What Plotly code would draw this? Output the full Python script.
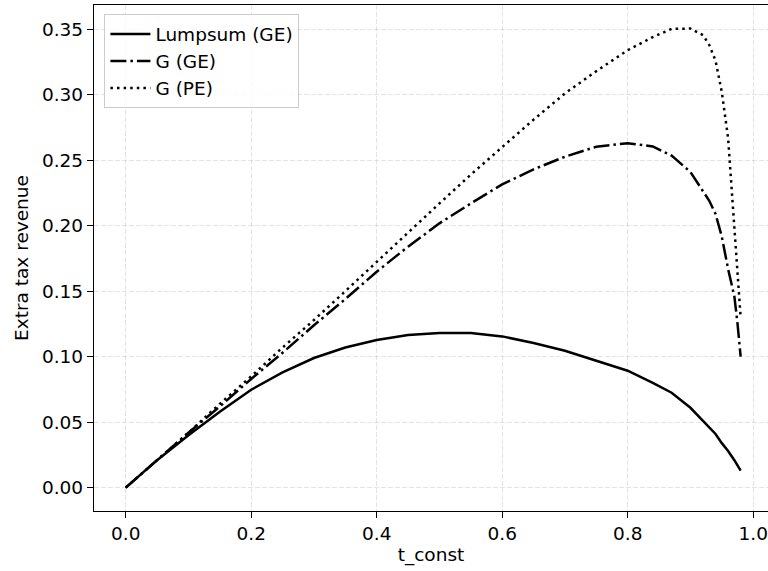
import plotly.graph_objects as go

# Constant tax rate grid and extra tax revenue for each scenario
t_const = [0.0, 0.05, 0.10, 0.15, 0.20, 0.25, 0.30, 0.35, 0.40, 0.45, 0.50, 0.55,
           0.60, 0.65, 0.70, 0.75, 0.80, 0.84, 0.87, 0.90, 0.92, 0.93, 0.94,
           0.95, 0.96, 0.97, 0.975, 0.98]

lumpsum_ge = [0.0, 0.021, 0.040, 0.058, 0.0748, 0.088, 0.099, 0.107, 0.1128, 0.1165,
              0.1181, 0.1180, 0.1155, 0.1105, 0.1045, 0.097, 0.0893, 0.080, 0.0725,
              0.061, 0.051, 0.046, 0.041, 0.034, 0.028, 0.021, 0.017, 0.013]

g_ge = [0.0, 0.021, 0.042, 0.062, 0.083, 0.103, 0.124, 0.144, 0.1649, 0.184,
        0.2018, 0.217, 0.2316, 0.243, 0.2527, 0.2603, 0.263, 0.2605, 0.2535,
        0.241, 0.227, 0.219, 0.209, 0.1916, 0.167, 0.146, 0.1255, 0.100]

g_pe = [0.0, 0.021, 0.042, 0.064, 0.085, 0.107, 0.128, 0.150, 0.1725, 0.195,
        0.217, 0.239, 0.2603, 0.281, 0.301, 0.318, 0.334, 0.344, 0.3503, 0.3505,
        0.3455, 0.338, 0.326, 0.302, 0.267, 0.200, 0.168, 0.130]

x_ticks = [0.0, 0.2, 0.4, 0.6, 0.8, 1.0]
x_tick_text = ["0.0", "0.2", "0.4", "0.6", "0.8", "1.0"]
y_ticks = [0.00, 0.05, 0.10, 0.15, 0.20, 0.25, 0.30, 0.35]
y_tick_text = ["0.00", "0.05", "0.10", "0.15", "0.20", "0.25", "0.30", "0.35"]

FONT = "DejaVu Sans"
FS = 18.5
LW = 2.5

fig = go.Figure()
fig.add_trace(go.Scatter(x=t_const, y=lumpsum_ge, mode="lines", name="Lumpsum (GE)",
                         line=dict(color="black", width=LW)))
fig.add_trace(go.Scatter(x=t_const, y=g_ge, mode="lines", name="G (GE)",
                         line=dict(color="black", width=LW, dash="16px,4px,2.5px,4px")))
fig.add_trace(go.Scatter(x=t_const, y=g_pe, mode="lines", name="G (PE)",
                         line=dict(color="black", width=LW, dash="2.5px,4.1px")))

grid = dict(showgrid=True, gridcolor="rgba(176,176,176,0.35)", gridwidth=1.2,
            griddash="5px,2px", zeroline=False)

fig.update_layout(
    width=768, height=571,
    margin=dict(l=94, r=0, t=5, b=60),
    paper_bgcolor="white", plot_bgcolor="white",
    font=dict(family=FONT, size=FS, color="black"),
    showlegend=True,
    legend=dict(x=0.015, y=0.982, xanchor="left", yanchor="top",
                bgcolor="rgba(255,255,255,0.8)", bordercolor="#cccccc", borderwidth=1.3,
                font=dict(family=FONT, size=FS, color="black"),
                tracegroupgap=0, itemwidth=40),
    xaxis=dict(range=[-0.0505, 1.0236], tickvals=x_ticks, ticktext=x_tick_text,
               ticks="outside", ticklen=6, tickwidth=1.3, tickcolor="black",
               showline=True, mirror=True, linecolor="black", linewidth=1.3,
               title=dict(text="t_const", font=dict(family=FONT, size=FS), standoff=4),
               **grid),
    yaxis=dict(range=[-0.0178, 0.3685], tickvals=y_ticks, ticktext=y_tick_text,
               ticks="outside", ticklen=6, tickwidth=1.3, tickcolor="black",
               showline=True, mirror=False, linecolor="black", linewidth=1.3,
               title=dict(text="Extra tax revenue", font=dict(family=FONT, size=FS), standoff=8),
               **grid),
)

fig.write_html("out.html")
